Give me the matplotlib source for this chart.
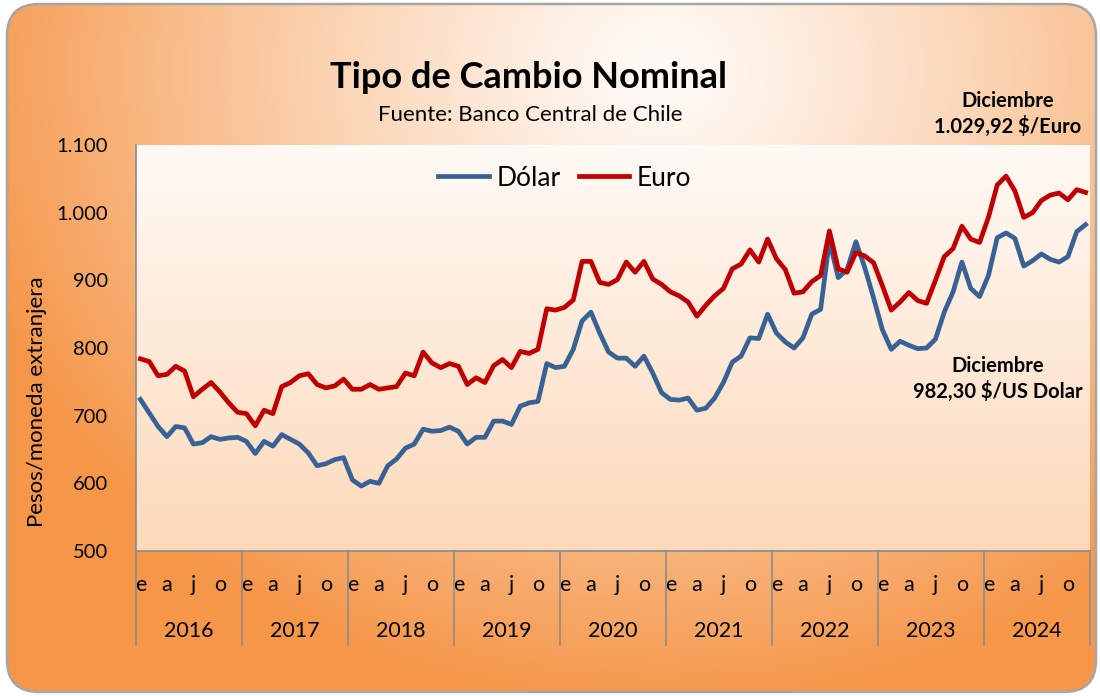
import numpy as np
import matplotlib
matplotlib.use("Agg")
import matplotlib.pyplot as plt
from matplotlib.patches import FancyBboxPatch
from matplotlib.lines import Line2D

plt.rcParams['font.family'] = ['Lato', 'DejaVu Sans']

years = [2016, 2017, 2018, 2019, 2020, 2021, 2022, 2023, 2024]
month_letters = ['e', 'a', 'j', 'o']   # ene, abr, jul, oct
yticks = [500, 600, 700, 800, 900, 1000, 1100]
ytick_labels = ['500', '600', '700', '800', '900', '1.000', '1.100']

# tipo de cambio mensual, pesos por moneda
dolar = [724, 704, 684, 669, 684, 682, 658, 660, 669, 665, 667, 668,
         662, 644, 662, 655, 672, 665, 658, 645, 626, 629, 635, 638,
         605, 596, 603, 600, 626, 636, 652, 658, 680, 677, 678, 683,
         677, 658, 668, 668, 692, 692, 687, 714, 719, 721, 777, 771,
         773, 798, 840, 853, 822, 794, 785, 785, 773, 788, 763, 734,
         724, 723, 726, 708, 711, 726, 749, 779, 788, 815, 814, 850,
         822, 809, 800, 815, 850, 857, 958, 904, 916, 957, 919, 874,
         827, 798, 810, 804, 799, 800, 813, 853, 883, 927, 888, 876,
         907, 963, 970, 962, 921, 929, 939, 931, 927, 935, 972, 982.30]
euro = [784, 780, 759, 761, 773, 766, 728, 739, 749, 735, 719, 705,
        703, 685, 708, 703, 743, 749, 759, 762, 746, 741, 744, 754,
        739, 739, 746, 739, 741, 743, 763, 759, 794, 778, 771, 777,
        773, 746, 756, 749, 774, 783, 771, 795, 792, 798, 858, 856,
        860, 871, 928, 928, 897, 894, 901, 927, 912, 928, 902, 894,
        883, 877, 868, 847, 863, 877, 888, 917, 924, 945, 927, 961,
        932, 916, 881, 883, 898, 907, 973, 917, 912, 941, 936, 926,
        892, 856, 868, 882, 870, 866, 900, 935, 947, 980, 961, 956,
        993, 1041, 1054, 1032, 993, 1000, 1018, 1026, 1029, 1019, 1034, 1029.92]

W, H = 1100, 696
fig = plt.figure(figsize=(W / 100, H / 100), dpi=100)
fig.patch.set_facecolor('white')

# fondo con degradado naranjo
bg = fig.add_axes([0, 0, 1, 1], zorder=0)
bg.set_xlim(0, W)
bg.set_ylim(H, 0)
bg.axis('off')
xx, yy = np.meshgrid(np.arange(W), np.arange(H))
t = np.sqrt(((xx - 660) / 720.0) ** 2 + ((yy - 70) / 640.0) ** 2)
t = np.clip(t, 0, 1) ** 1.2
light = np.array([255, 251, 247]) / 255
orange = np.array([245, 150, 72]) / 255
img = light[None, None, :] * (1 - t[..., None]) + orange[None, None, :] * t[..., None]
frame = FancyBboxPatch((7, 4), 1089, 688, boxstyle="round,pad=0,rounding_size=32",
                       facecolor='none', edgecolor='#a6a6a6', linewidth=1.8, zorder=3)
bg.add_patch(frame)
im = bg.imshow(img, extent=[0, W, H, 0], aspect='auto', zorder=1)
im.set_clip_path(frame)

ax = fig.add_axes([136 / W, 1 - 551 / H, 954 / W, 406 / H], zorder=2)
ax.patch.set_alpha(0)
pg = np.linspace(0, 1, 256)[:, None]
top_c = np.array([255, 250, 245]) / 255
bot_c = np.array([252, 217, 186]) / 255
pimg = top_c[None, None, :] * (1 - pg[..., None]) + bot_c[None, None, :] * pg[..., None]
ax.imshow(pimg, extent=[0, 1, 0, 1], transform=ax.transAxes, aspect='auto', zorder=0)

x = np.arange(len(dolar))
ax.plot(x, dolar, color='#386296', linewidth=3.4, solid_joinstyle='round', zorder=3)
ax.plot(x, euro, color='#c00000', linewidth=3.4, solid_joinstyle='round', zorder=3)

ax.set_xlim(-0.5, len(dolar) - 0.5)
ax.set_ylim(500, 1100)
ax.set_yticks(yticks)
ax.set_yticklabels(ytick_labels, fontsize=14.5)
ax.tick_params(axis='y', length=0, pad=20)
for s in ['top', 'right']:
    ax.spines[s].set_visible(False)
for s in ['left', 'bottom']:
    ax.spines[s].set_color('#8c8c8c')
    ax.spines[s].set_linewidth(1.2)

# etiquetas de meses y años
mpos = [12 * i + m for i in range(len(years)) for m in (0, 3, 6, 9)]
ax.set_xticks(mpos)
ax.set_xticklabels(month_letters * len(years), fontsize=15.5)
ax.tick_params(axis='x', length=0, pad=17)
xt = ax.get_xaxis_transform()
for i, yr in enumerate(years):
    ax.text(12 * i + 5.5, -0.197, str(yr), transform=xt, ha='center', va='center', fontsize=15.5)
for i in range(len(years) + 1):
    ax.plot([12 * i - 0.5, 12 * i - 0.5], [0, -0.232], transform=xt, color='#8c8c8c',
            linewidth=1.2, clip_on=False, zorder=4)

fig.text(37 / W, 1 - 402 / H, 'Pesos/moneda extranjera', rotation=90, ha='center', va='center',
         fontsize=16)

fig.text(528 / W, 1 - 77 / H, 'Tipo de Cambio Nominal', ha='center', va='center',
         fontsize=26, fontweight='bold')
fig.text(530 / W, 1 - 115 / H, 'Fuente: Banco Central de Chile', ha='center', va='center',
         fontsize=16)

handles = [Line2D([], [], color='#386296', linewidth=3.4),
           Line2D([], [], color='#c00000', linewidth=3.4)]
ax.legend(handles, ['Dólar', 'Euro'], loc='center', bbox_to_anchor=(565 / W, 1 - 178 / H),
          bbox_transform=fig.transFigure, ncol=2, frameon=False, fontsize=19,
          handlelength=1.9, columnspacing=0.7, handletextpad=0.3)

fig.text(1008 / W, 1 - 114 / H, 'Diciembre\n1.029,92 $/Euro', ha='center', va='center',
         fontsize=14.5, fontweight='bold', linespacing=1.25)
ax.text(998 / W, 1 - 379 / H, 'Diciembre\n982,30 $/US Dolar', transform=fig.transFigure,
        ha='center', va='center', fontsize=14.5, fontweight='bold', linespacing=1.25, zorder=5)

fig.savefig('out.png', dpi=100)
